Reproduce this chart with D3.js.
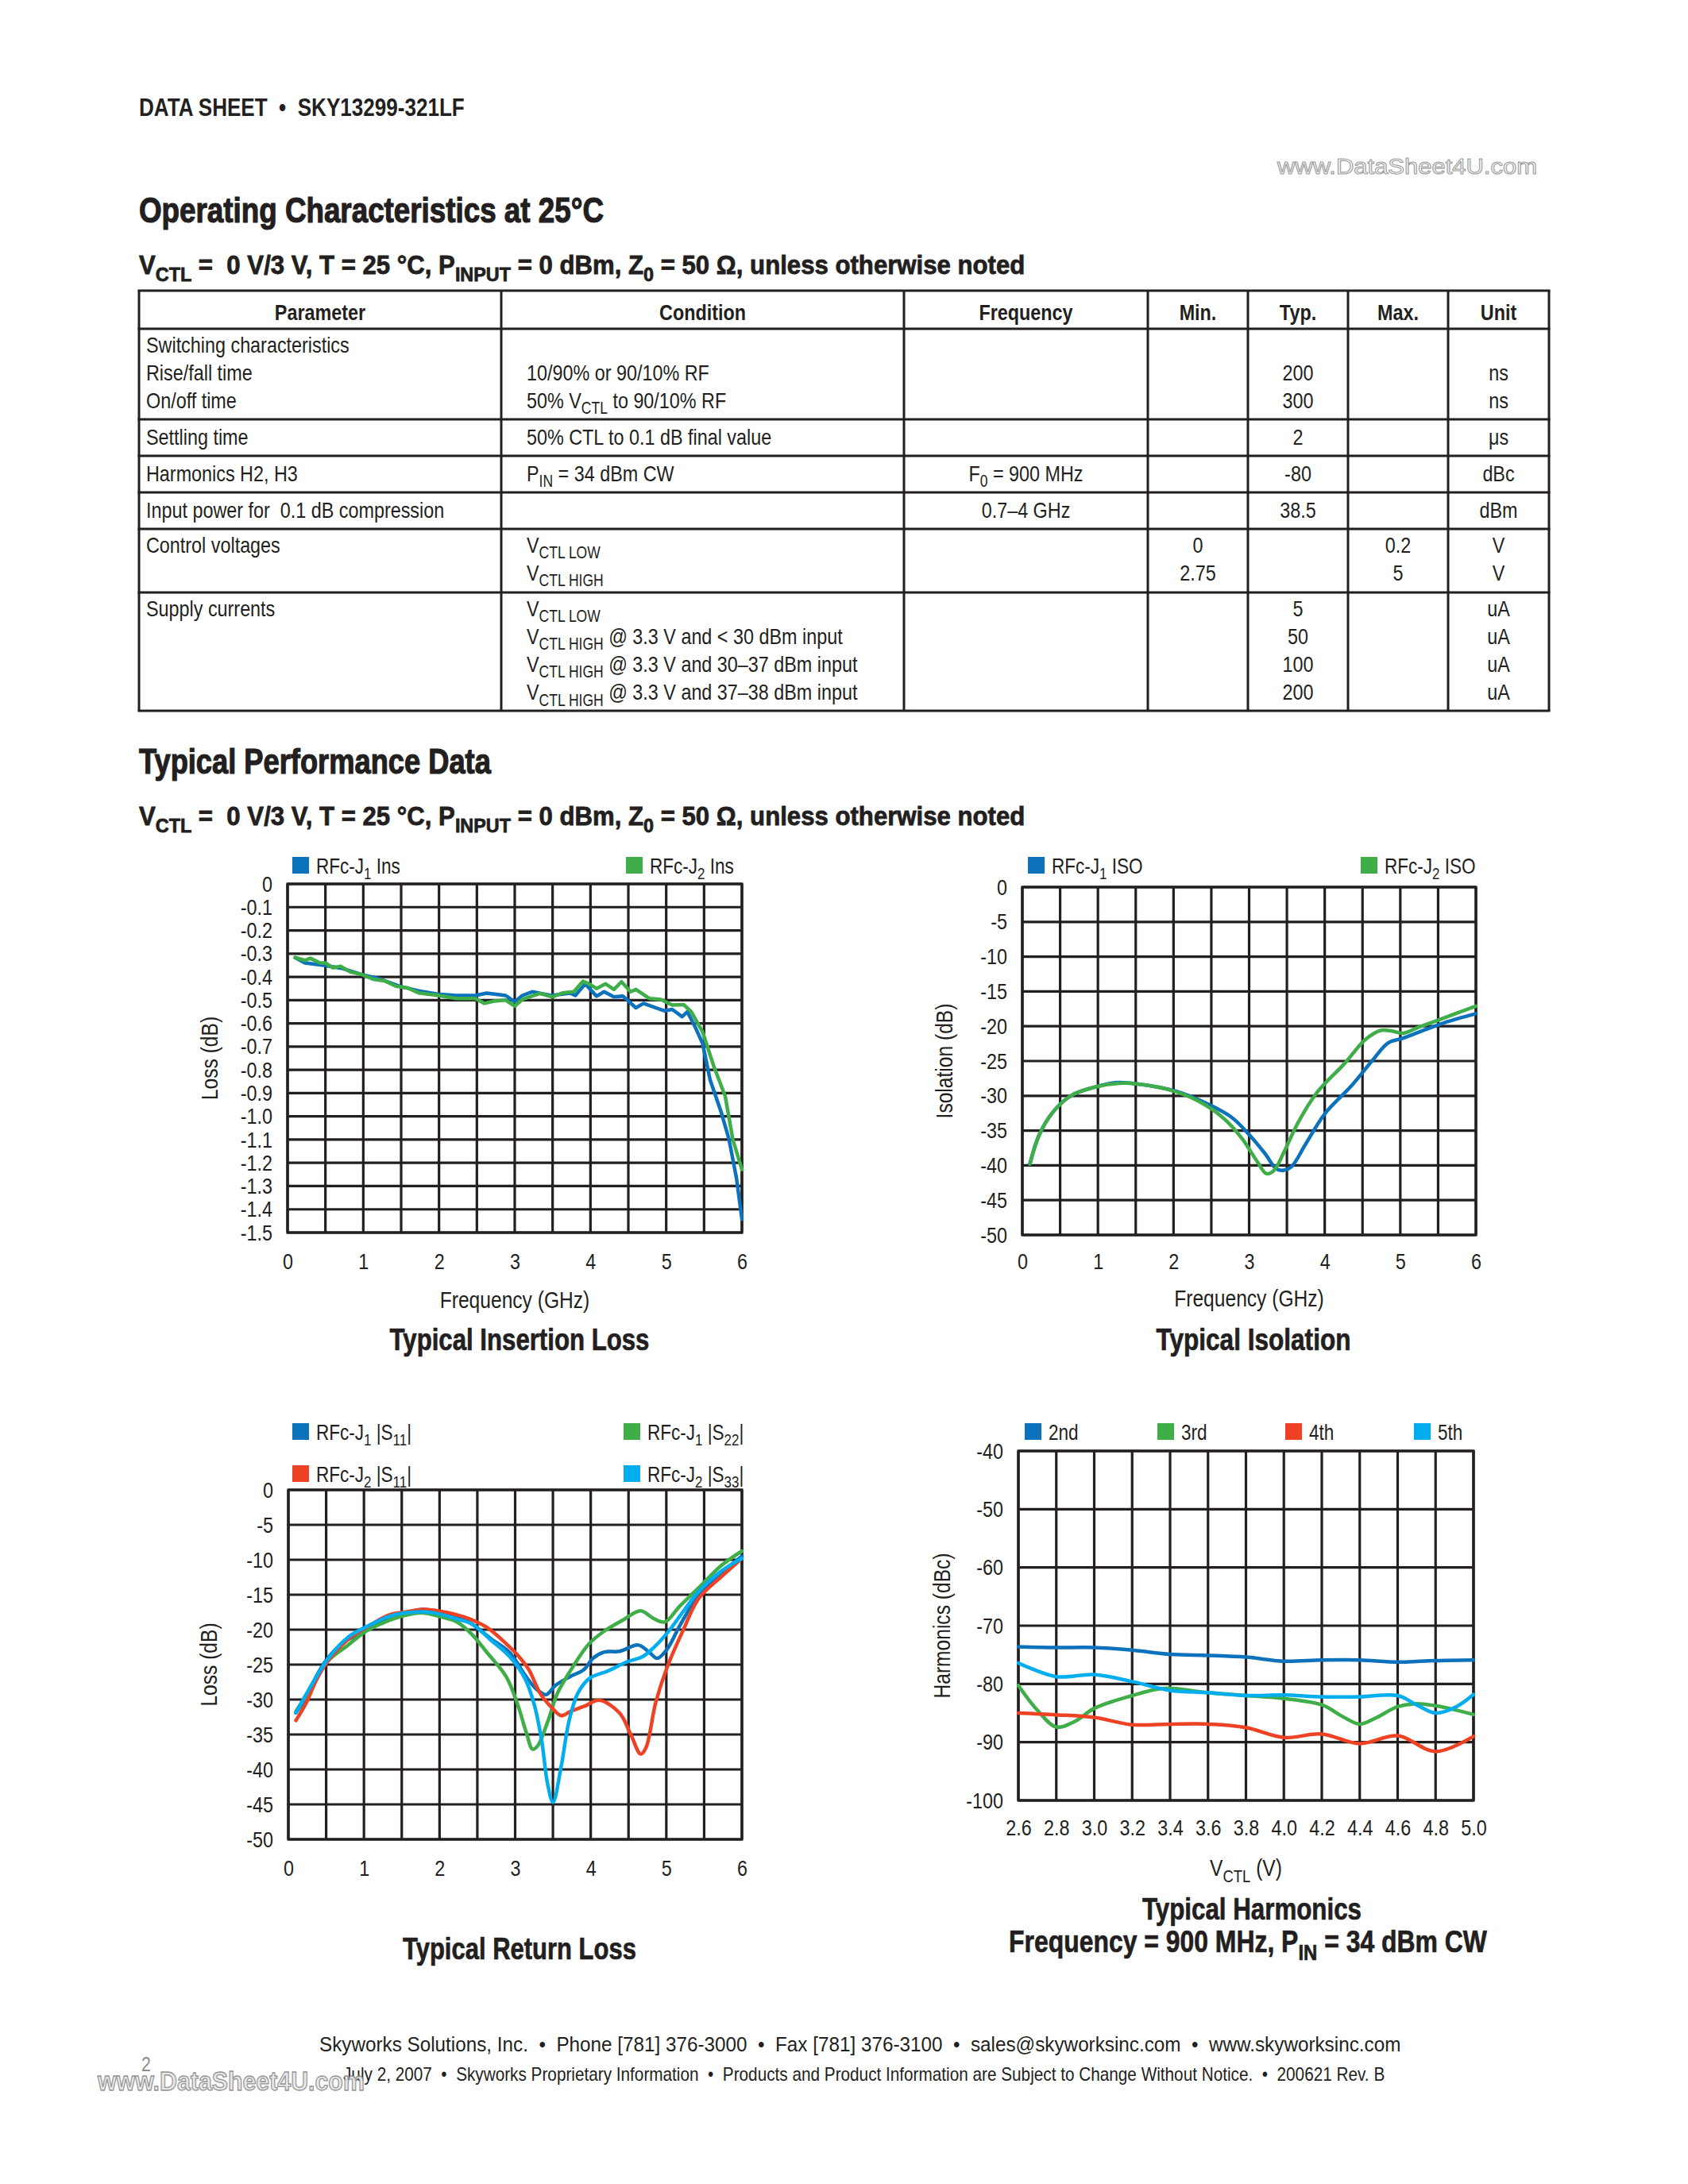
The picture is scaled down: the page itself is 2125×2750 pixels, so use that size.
<!DOCTYPE html>
<html lang="en">
<head>
<meta charset="UTF-8">
<title>SKY13299-321LF data sheet</title>
<script src="https://cdn.jsdelivr.net/npm/d3@7"></script>
<style>
  body { margin: 0; background: #fff; }
  svg { display: block; }
  text { font-family: "Liberation Sans", Arial, sans-serif; fill: #231f20; white-space: pre; }
  .grid line, .grid rect { stroke: #231f20; stroke-width: 3.2; fill: none; }
  .curve { fill: none; stroke-width: 4.5; stroke-linejoin: round; stroke-linecap: round; }
</style>
</head>
<body>
<script>
// ---------------- data ----------------
const freqTickLabels = ["0", "1", "2", "3", "4", "5", "6"]
const insTickLabels = ["0", "-0.1", "-0.2", "-0.3", "-0.4", "-0.5", "-0.6", "-0.7", "-0.8", "-0.9", "-1.0", "-1.1", "-1.2", "-1.3", "-1.4", "-1.5"]
const dbTickLabels = ["0", "-5", "-10", "-15", "-20", "-25", "-30", "-35", "-40", "-45", "-50"]
const vctlTickLabels = ["2.6", "2.8", "3.0", "3.2", "3.4", "3.6", "3.8", "4.0", "4.2", "4.4", "4.6", "4.8", "5.0"]
const harmTickLabels = ["-40", "-50", "-60", "-70", "-80", "-90", "-100"]

// insertion loss (GHz, dB)
const insFreqJ1 = [0.1, 0.23, 0.48, 0.73, 0.98, 1.23, 1.48, 1.73, 1.98, 2.23, 2.48, 2.63, 2.88, 3.0, 3.1, 3.23, 3.48, 3.73, 3.8, 3.93, 4.08, 4.18, 4.31, 4.43, 4.6, 4.7, 4.83, 4.98, 5.08, 5.21, 5.28, 5.38, 5.48, 5.58, 5.73, 5.83, 5.93, 6.0]
const insLossJ1 = [-0.317, -0.34, -0.35, -0.364, -0.39, -0.41, -0.44, -0.46, -0.474, -0.48, -0.48, -0.47, -0.48, -0.507, -0.48, -0.464, -0.48, -0.47, -0.48, -0.43, -0.483, -0.464, -0.486, -0.483, -0.533, -0.514, -0.529, -0.546, -0.54, -0.571, -0.55, -0.614, -0.686, -0.843, -0.986, -1.1, -1.27, -1.443]
const insFreqJ2 = [0.1, 0.23, 0.3, 0.43, 0.5, 0.6, 0.7, 0.83, 0.98, 1.13, 1.28, 1.43, 1.58, 1.73, 1.98, 2.23, 2.48, 2.6, 2.73, 2.88, 3.0, 3.1, 3.33, 3.5, 3.63, 3.78, 3.9, 3.98, 4.08, 4.2, 4.31, 4.41, 4.53, 4.6, 4.78, 4.93, 5.08, 5.23, 5.33, 5.48, 5.63, 5.78, 5.88, 6.0]
const insLossJ2 = [-0.317, -0.329, -0.32, -0.34, -0.34, -0.361, -0.354, -0.379, -0.39, -0.41, -0.417, -0.44, -0.447, -0.469, -0.479, -0.493, -0.493, -0.514, -0.504, -0.5, -0.526, -0.497, -0.471, -0.486, -0.469, -0.464, -0.419, -0.43, -0.45, -0.43, -0.454, -0.421, -0.464, -0.454, -0.493, -0.497, -0.521, -0.519, -0.55, -0.636, -0.786, -0.914, -1.1, -1.229]

// isolation (GHz, dB)
const isoFreqJ1 = [0.1, 0.22, 0.4, 0.64, 0.94, 1.23, 1.53, 2.02, 2.42, 2.77, 3.01, 3.21, 3.36, 3.46, 3.56, 3.75, 4.0, 4.35, 4.64, 4.84, 5.04, 5.28, 5.58, 6.0]
const isoJ1 = [-39.8, -35.7, -32.4, -30, -28.8, -28.1, -28.3, -29.3, -31, -33.1, -35.7, -38.3, -40.5, -40.7, -40.2, -36.9, -32.6, -28.6, -24.8, -22.4, -21.7, -20.7, -19.5, -18.2]
const isoFreqJ2 = [0.1, 0.22, 0.4, 0.64, 0.94, 1.28, 1.53, 1.93, 2.32, 2.67, 2.91, 3.11, 3.23, 3.33, 3.46, 3.65, 3.9, 4.25, 4.54, 4.74, 4.89, 5.04, 5.23, 5.58, 6.0]
const isoJ2 = [-39.8, -35.7, -32.4, -30, -28.8, -28.2, -28.3, -29.1, -30.7, -33.3, -36.2, -39.5, -41.2, -40.7, -38.1, -33.8, -29.5, -25.5, -21.9, -20.6, -20.7, -21, -20.2, -18.8, -17.1]

// return loss (GHz, dB)
const rlFreqS11J1 = [0.1, 0.23, 0.33, 0.5, 0.73, 0.93, 1.13, 1.33, 1.53, 1.78, 2.03, 2.23, 2.43, 2.68, 2.93, 3.13, 3.28, 3.41, 3.53, 3.73, 3.91, 4.03, 4.18, 4.38, 4.63, 4.78, 4.88, 5.01, 5.18, 5.43, 5.73, 6.0]
const rlS11J1 = [-31.9, -29.8, -27.5, -24.4, -21.8, -20.7, -19.4, -18.4, -17.7, -17.1, -17.5, -18.1, -19.2, -21.3, -23.3, -26.5, -28.5, -29.3, -28, -26.7, -25.7, -24.1, -23.2, -23.1, -22.2, -23.3, -24.1, -22.8, -19.4, -15, -11.9, -9.5]
const rlFreqS22J1 = [0.1, 0.33, 0.53, 0.78, 1.03, 1.28, 1.53, 1.78, 2.03, 2.23, 2.43, 2.63, 2.88, 3.03, 3.15, 3.23, 3.3, 3.43, 3.56, 3.73, 3.98, 4.18, 4.43, 4.66, 4.83, 4.98, 5.18, 5.43, 5.73, 6.0]
const rlS22J1 = [-31.7, -27.8, -24.4, -22.3, -20.2, -18.9, -18, -17.6, -18.2, -18.9, -20.7, -23.3, -26.7, -30.6, -34.8, -37.1, -36.6, -33.2, -29.1, -25.9, -22, -20.2, -18.6, -17.3, -18.4, -18.9, -16.6, -14, -10.8, -8.75]
const rlFreqS11J2 = [0.1, 0.23, 0.38, 0.53, 0.78, 1.03, 1.33, 1.53, 1.78, 2.03, 2.33, 2.63, 2.88, 3.03, 3.18, 3.33, 3.48, 3.61, 3.73, 3.93, 4.11, 4.38, 4.53, 4.66, 4.73, 4.86, 5.01, 5.23, 5.43, 5.73, 6.0]
const rlS11J2 = [-33, -30.6, -27, -24.4, -21.5, -19.7, -17.9, -17.5, -17.1, -17.4, -18.2, -19.7, -22, -23.6, -25.7, -29.1, -31.1, -32.3, -31.7, -30.9, -30.1, -31.9, -35, -37.8, -36.9, -30.4, -25.4, -19.9, -15.5, -12.4, -9.8]
const rlFreqS33J2 = [0.1, 0.33, 0.53, 0.8, 1.03, 1.33, 1.63, 1.93, 2.23, 2.43, 2.68, 2.93, 3.13, 3.25, 3.35, 3.43, 3.5, 3.61, 3.71, 3.83, 3.98, 4.23, 4.48, 4.68, 4.83, 5.01, 5.23, 5.43, 5.73, 6.0]
const rlS33J2 = [-31.9, -27.5, -24.1, -21, -19.6, -18.1, -17.5, -17.6, -18.5, -19.2, -21.5, -23.9, -27, -30.6, -35.8, -42.1, -44.7, -39.5, -33.2, -29.1, -27, -25.9, -24.6, -23.9, -22.6, -20.5, -17.3, -14.5, -11.6, -9.8]

// harmonics (V, dBc)
const harmV = [2.6, 2.8, 3.0, 3.2, 3.4, 3.6, 3.8, 4.0, 4.2, 4.4, 4.6, 4.8, 5.0]
const harm2nd = [-73.6, -73.75, -73.75, -74.2, -74.9, -75.1, -75.4, -76.1, -75.9, -75.9, -76.25, -76, -75.9]
const harm4th = [-85, -85.3, -85.75, -87, -86.9, -86.9, -87.5, -89.2, -88.6, -90.25, -88.9, -91.6, -89]
const harmV3 = [2.6, 2.7, 2.8, 2.9, 3.0, 3.2, 3.33, 3.4, 3.6, 3.8, 4.0, 4.2, 4.31, 4.4, 4.49, 4.6, 4.7, 4.8, 4.91, 5.0]
const harm3rd = [-80.25, -84.5, -87.4, -86.4, -84.2, -82, -80.9, -80.75, -81.5, -82, -82.5, -83.6, -85.6, -86.9, -85.75, -83.9, -83.4, -83.75, -84.5, -85.25]
const harmV5 = [2.6, 2.8, 3.0, 3.2, 3.4, 3.6, 3.8, 4.0, 4.2, 4.4, 4.6, 4.7, 4.8, 4.91, 5.0]
const harm5th = [-76.4, -78.75, -78.4, -79.6, -81.1, -81.5, -82, -81.9, -82.2, -82.2, -82, -83.6, -85, -83.9, -81.8]

// table (a string, or an array of parts where [x] is a subscript)
const tableHeader = ["Parameter", "Condition", "Frequency", "Min.", "Typ.", "Max.", "Unit"]
const colParameter = [
  ["Switching characteristics", "Rise/fall time", "On/off time"],
  ["Settling time"],
  ["Harmonics H2, H3"],
  ["Input power for  0.1 dB compression"],
  ["Control voltages"],
  ["Supply currents"]
]
const colCondition = [
  ["", "10/90% or 90/10% RF", ["50% V", ["CTL"], " to 90/10% RF"]],
  ["50% CTL to 0.1 dB final value"],
  [["P", ["IN"], " = 34 dBm CW"]],
  [""],
  [["V", ["CTL LOW"]], ["V", ["CTL HIGH"]]],
  [["V", ["CTL LOW"]], ["V", ["CTL HIGH"], " @ 3.3 V and < 30 dBm input"], ["V", ["CTL HIGH"], " @ 3.3 V and 30–37 dBm input"], ["V", ["CTL HIGH"], " @ 3.3 V and 37–38 dBm input"]]
]
const colFrequency = [[""], [""], [["F", ["0"], " = 900 MHz"]], ["0.7–4 GHz"], [""], [""]]
const colMin = [[""], [""], [""], [""], ["0", "2.75"], [""]]
const colTyp = [["", "200", "300"], ["2"], ["-80"], ["38.5"], [""], ["5", "50", "100", "200"]]
const colMax = [[""], [""], [""], [""], ["0.2", "5"], [""]]
const colUnit = [["", "ns", "ns"], ["μs"], ["dBc"], ["dBm"], ["V", "V"], ["uA", "uA", "uA", "uA"]]

// ---------------- drawing ----------------
const ink = "#231f20"
const blue = "#0b72bb", green = "#3fae49", red = "#ef4123", cyan = "#00aeef"
const NARROW = 0.82   // condensed look from a regular face

const svg = d3.select("body").append("svg")
  .attr("width", 2125).attr("height", 2750)
svg.append("rect").attr("width", 2125).attr("height", 2750).attr("fill", "#fff")

function rich(t, parts, size) {
  if (typeof parts === "string") { t.text(parts); return }
  let down = false
  parts.forEach(p => {
    const sub = Array.isArray(p)
    const s = t.append("tspan").text(sub ? p[0] : p)
    if (sub) {
      s.attr("font-size", size * 0.75)
      if (!down) { s.attr("dy", size * 0.26); down = true }
    } else if (down) {
      s.attr("dy", -size * 0.26); down = false
    }
  })
}

// text drawn at (x, y), squeezed horizontally (to a width if one is given)
function label(g, x, y, parts, o = {}) {
  const size = o.size || 28
  const t = g.append("text")
    .attr("font-size", size)
    .attr("text-anchor", o.anchor || "start")
  if (o.bold) t.attr("font-weight", "bold")
  if (o.heavy) t.attr("stroke", ink).attr("stroke-width", o.heavy)
  rich(t, parts, size)
  const k = o.width ? o.width / t.node().getComputedTextLength() : NARROW
  t.attr("transform", `translate(${x},${y})${o.rotate ? ` rotate(${o.rotate})` : ""} scale(${k},1)`)
  return t
}

// header
label(svg, 175, 146, "DATA SHEET  •  SKY13299-321LF", { size: 31, bold: true, width: 410 })
label(svg, 1608, 219, "www.DataSheet4U.com", { size: 27, width: 327 })
  .style("fill", "#fff").attr("stroke", "#a0a0a0").attr("stroke-width", 1.1)

const subtitle = ["V", ["CTL"], " =  0 V/3 V, T = 25 °C, P", ["INPUT"], " = 0 dBm, Z", ["0"], " = 50 Ω, unless otherwise noted"]
label(svg, 175, 280, "Operating Characteristics at 25°C", { size: 44, bold: true, width: 585, heavy: 1.2 })
label(svg, 175, 345, subtitle, { size: 33, bold: true, width: 1116, heavy: 0.8 })

// table
const cols = [175, 631, 1138, 1445, 1571, 1697, 1823, 1950]
const rows = [366, 414, 528, 574, 620, 666, 746, 895]
const tg = svg.append("g")
rows.forEach(r => tg.append("line").attr("x1", cols[0] - 1.5).attr("x2", cols[7] + 1.5).attr("y1", r).attr("y2", r)
  .attr("stroke", ink).attr("stroke-width", 3))
cols.forEach(c => tg.append("line").attr("x1", c).attr("x2", c).attr("y1", rows[0]).attr("y2", rows[7])
  .attr("stroke", ink).attr("stroke-width", 3))

tableHeader.forEach((h, i) => label(tg, (cols[i] + cols[i + 1]) / 2, 403, h, { size: 28.5, bold: true, anchor: "middle" }))

const bodyCols = [colParameter, colCondition, colFrequency, colMin, colTyp, colMax, colUnit]
bodyCols.forEach((col, ci) => {
  col.forEach((lines, ri) => {
    const top = rows[ri + 1]
    const nLines = Math.max(...bodyCols.map(c => c[ri].length))
    const off = nLines === 1 ? 32 : 29.5
    lines.forEach((ln, li) => {
      if (ln === "") return
      const y = top + off + li * 35.2
      if (ci === 0) label(tg, 184, y, ln, { size: 28.5 })
      else if (ci === 1) label(tg, 663, y, ln, { size: 28.5 })
      else label(tg, (cols[ci] + cols[ci + 1]) / 2, y, ln, { size: 28.5, anchor: "middle" })
    })
  })
})

label(svg, 175, 974, "Typical Performance Data", { size: 44, bold: true, width: 443, heavy: 1.2 })
label(svg, 175, 1039, subtitle, { size: 33, bold: true, width: 1116, heavy: 0.8 })

// charts
function drawChart(c) {
  const g = svg.append("g")
  const x = d3.scaleLinear().domain(c.xDomain).range([c.left, c.right])
  const y = d3.scaleLinear().domain(c.yDomain).range([c.bottom, c.top])

  const grid = g.append("g").attr("class", "grid")
  grid.selectAll("line.v").data(c.xGrid).join("line").attr("class", "v")
    .attr("x1", d => x(d)).attr("x2", d => x(d)).attr("y1", c.top).attr("y2", c.bottom)
  grid.selectAll("line.h").data(c.yTickLabels.map(Number)).join("line").attr("class", "h")
    .attr("x1", c.left).attr("x2", c.right).attr("y1", d => y(d)).attr("y2", d => y(d))
  grid.append("rect").attr("x", c.left).attr("y", c.top)
    .attr("width", c.right - c.left).attr("height", c.bottom - c.top)

  const ya = g.append("g").attr("transform", `translate(${c.left},0)`)
    .call(d3.axisLeft(y).tickValues(c.yTickLabels.map(Number))
      .tickFormat((d, i) => c.yTickLabels[i]).tickSize(0).tickPadding(19))
  const xa = g.append("g").attr("transform", `translate(0,${c.bottom})`)
    .call(d3.axisBottom(x).tickValues(c.xTickLabels.map(Number))
      .tickFormat((d, i) => c.xTickLabels[i]).tickSize(0).tickPadding(c.xPad || 26))
  ;[ya, xa].forEach(a => {
    a.select(".domain").remove()
    a.attr("font-size", 28.5).attr("font-family", null)
    a.selectAll(".tick text").each(function () {
      const t = d3.select(this)
      const x0 = +t.attr("x") || 0
      t.attr("x", x0 / NARROW).attr("transform", `scale(${NARROW},1)`)
    })
  })

  const line = d3.line().x(d => x(d[0])).y(d => y(d[1])).curve(c.curve)
  c.series.forEach(s => {
    g.append("path").attr("class", "curve")
      .attr("stroke", s.color)
      .attr("d", line(s.xs.map((v, i) => [v, s.ys[i]])))
  })

  c.series.forEach(s => {
    g.append("rect").attr("x", s.lx).attr("y", s.ly - 21).attr("width", 21).attr("height", 21).attr("fill", s.color)
    label(g, s.lx + 30, s.ly, s.name, { size: 27.5 })
  })

  label(g, c.yTitleX, (c.top + c.bottom) / 2, c.yTitle, { size: 30, anchor: "middle", rotate: -90 })
    .attr("dominant-baseline", "central")
  if (c.xTitle) label(g, (c.left + c.right) / 2, c.xTitleY, c.xTitle, { size: 30, anchor: "middle" })
  c.titles.forEach(t => label(g, t.x || (c.left + c.right) / 2, t.y, t.text, { size: 38, bold: true, anchor: "middle", width: t.w, heavy: 0.7 }))
}

const freqGrid = d3.range(0, 6.001, 0.5)

drawChart({
  left: 362, right: 934, top: 1113, bottom: 1552,
  xDomain: [0, 6], yDomain: [-1.5, 0], xGrid: freqGrid,
  xTickLabels: freqTickLabels, yTickLabels: insTickLabels,
  curve: d3.curveLinear,
  series: [
    { name: ["RFc-J", ["1"], " Ins"], color: blue, xs: insFreqJ1, ys: insLossJ1, lx: 368, ly: 1100 },
    { name: ["RFc-J", ["2"], " Ins"], color: green, xs: insFreqJ2, ys: insLossJ2, lx: 788, ly: 1100 }
  ],
  yTitle: "Loss (dB)", yTitleX: 264,
  xTitle: "Frequency (GHz)", xTitleY: 1647,
  titles: [{ text: "Typical Insertion Loss", y: 1700, w: 327, x: 654 }]
})

drawChart({
  left: 1287, right: 1858, top: 1117, bottom: 1555,
  xDomain: [0, 6], yDomain: [-50, 0], xGrid: freqGrid,
  xTickLabels: freqTickLabels, yTickLabels: dbTickLabels,
  curve: d3.curveCatmullRom.alpha(0.5),
  series: [
    { name: ["RFc-J", ["1"], " ISO"], color: blue, xs: isoFreqJ1, ys: isoJ1, lx: 1294, ly: 1100 },
    { name: ["RFc-J", ["2"], " ISO"], color: green, xs: isoFreqJ2, ys: isoJ2, lx: 1713, ly: 1100 }
  ],
  yTitle: "Isolation (dB)", yTitleX: 1189, xPad: 23,
  xTitle: "Frequency (GHz)", xTitleY: 1645,
  titles: [{ text: "Typical Isolation", y: 1700, w: 245, x: 1578 }]
})

drawChart({
  left: 363, right: 934, top: 1876, bottom: 2316,
  xDomain: [0, 6], yDomain: [-50, 0], xGrid: freqGrid,
  xTickLabels: freqTickLabels, yTickLabels: dbTickLabels,
  curve: d3.curveCatmullRom.alpha(0.5),
  series: [
    { name: ["RFc-J", ["1"], " |S", ["11"], "|"], color: blue, xs: rlFreqS11J1, ys: rlS11J1, lx: 368, ly: 1813 },
    { name: ["RFc-J", ["1"], " |S", ["22"], "|"], color: green, xs: rlFreqS22J1, ys: rlS22J1, lx: 785, ly: 1813 },
    { name: ["RFc-J", ["2"], " |S", ["11"], "|"], color: red, xs: rlFreqS11J2, ys: rlS11J2, lx: 368, ly: 1866 },
    { name: ["RFc-J", ["2"], " |S", ["33"], "|"], color: cyan, xs: rlFreqS33J2, ys: rlS33J2, lx: 785, ly: 1866 }
  ],
  yTitle: "Loss (dB)", yTitleX: 263,
  titles: [{ text: "Typical Return Loss", y: 2467, w: 294, x: 654 }]
})

drawChart({
  left: 1282, right: 1855, top: 1827, bottom: 2267,
  xDomain: [2.6, 5.0], yDomain: [-100, -40], xGrid: vctlTickLabels.map(Number),
  xTickLabels: vctlTickLabels, yTickLabels: harmTickLabels, xPad: 24,
  curve: d3.curveCatmullRom.alpha(0.5),
  series: [
    { name: "2nd", color: blue, xs: harmV, ys: harm2nd, lx: 1290, ly: 1813 },
    { name: "3rd", color: green, xs: harmV3, ys: harm3rd, lx: 1457, ly: 1813 },
    { name: "4th", color: red, xs: harmV, ys: harm4th, lx: 1618, ly: 1813 },
    { name: "5th", color: cyan, xs: harmV5, ys: harm5th, lx: 1780, ly: 1813 }
  ],
  yTitle: "Harmonics (dBc)", yTitleX: 1186,
  xTitle: ["V", ["CTL"], " (V)"], xTitleY: 2362,
  titles: [
    { text: "Typical Harmonics", y: 2417, w: 276, x: 1576 },
    { text: ["Frequency = 900 MHz, P", ["IN"], " = 34 dBm CW"], y: 2458, w: 602, x: 1571 }
  ]
})

// footer
label(svg, 402, 2583, "Skyworks Solutions, Inc.  •  Phone [781] 376-3000  •  Fax [781] 376-3100  •  sales@skyworksinc.com  •  www.skyworksinc.com", { size: 26, width: 1362 })
label(svg, 432, 2620, "July 2, 2007  •  Skyworks Proprietary Information  •  Products and Product Information are Subject to Change Without Notice.  •  200621 Rev. B", { size: 23, width: 1312 })
label(svg, 178, 2608, "2", { size: 26 }).style("fill", "#8c8c8c")
label(svg, 123, 2632, "www.DataSheet4U.com", { size: 34, bold: true, width: 336 })
  .style("fill", "#e6e6e6").attr("stroke", "#8a8a8a").attr("stroke-width", 1.3).attr("opacity", 0.9)
</script>
</body>
</html>
